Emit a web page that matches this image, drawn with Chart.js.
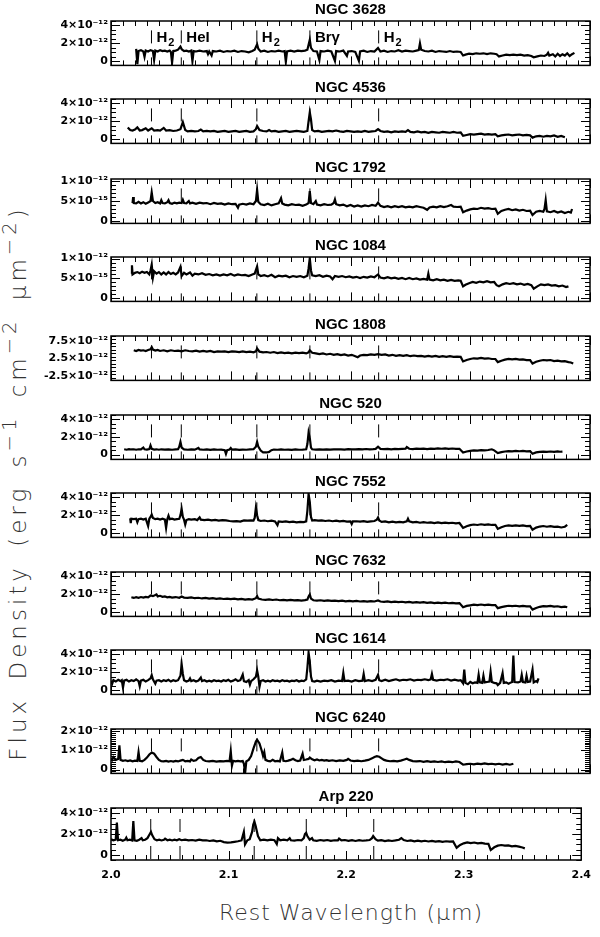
<!DOCTYPE html>
<html>
<head>
<meta charset="utf-8">
<script src="https://cdn.jsdelivr.net/npm/chart.js@4.4.1/dist/chart.umd.min.js"></script>
<style>
  body { margin: 0; background: #fff; }
  #page { position: relative; width: 600px; height: 937px; overflow: hidden; }
  #page canvas { position: absolute; left: 0; }
  .ytitle {
    position: absolute; left: 18px; top: 483px;
    transform: translate(-50%, -50%) rotate(-90deg);
    white-space: nowrap; font: 200 23px "DejaVu Sans", sans-serif; color: #333;
    letter-spacing: 4px; word-spacing: 6px;
  }
  .xtitle {
    position: absolute; left: 351px; top: 912px;
    transform: translate(-50%, -50%);
    white-space: nowrap; font: 200 22px "DejaVu Sans", sans-serif; color: #333;
    letter-spacing: 1px;
  }
  sup { font-size: 0.85em; vertical-align: 0.5em; line-height: 0; }
</style>
</head>
<body>
<div id="page">
  <div class="ytitle">Flux Density (erg s<sup>−1</sup> cm<sup>−2</sup> μm<sup>−2</sup>)</div>
  <div class="xtitle">Rest Wavelength (μm)</div>
</div>
<script>
// flux values in units of 1e-12 erg s^-1 cm^-2 um^-2, wavelength in um
const ngc3628 = [[2.021,1.4],[2.022,-0.3],[2.023,1.15],[2.025,1.25],[2.027,1.1],[2.028,0.5],[2.029,1.2],[2.031,1.1],[2.033,1.25],[2.035,1.15],[2.036,0.15],[2.037,1.2],[2.039,1.1],[2.041,1.25],[2.043,1.15],[2.045,1.2],[2.047,1.1],[2.049,1.2],[2.050,1.05],[2.051,-0.15],[2.052,1.15],[2.054,1.2],[2.056,1.3],[2.058,1.65],[2.059,1.35],[2.061,1.15],[2.063,1.2],[2.065,1.1],[2.067,1.2],[2.068,0.0],[2.069,1.15],[2.071,1.1],[2.074,1.2],[2.077,1.1],[2.080,1.15],[2.081,0.8],[2.082,1.1],[2.084,0.65],[2.085,1.15],[2.088,1.1],[2.091,1.2],[2.094,1.05],[2.097,1.15],[2.100,1.1],[2.103,1.2],[2.106,1.05],[2.109,1.15],[2.112,1.1],[2.115,1.0],[2.118,1.15],[2.120,1.3],[2.122,1.9],[2.123,1.4],[2.125,1.1],[2.128,1.2],[2.131,1.05],[2.134,1.15],[2.137,1.1],[2.140,1.2],[2.143,1.1],[2.145,1.15],[2.146,-0.05],[2.147,1.1],[2.150,1.2],[2.153,1.1],[2.156,1.2],[2.159,1.15],[2.162,1.2],[2.164,1.3],[2.166,2.4],[2.167,1.5],[2.169,1.15],[2.172,1.1],[2.174,0.15],[2.175,1.15],[2.178,1.1],[2.181,1.2],[2.184,1.1],[2.187,0.05],[2.188,1.15],[2.191,1.1],[2.194,1.2],[2.197,0.6],[2.198,1.1],[2.201,1.15],[2.204,1.05],[2.207,0.05],[2.208,1.1],[2.211,1.2],[2.214,1.05],[2.217,1.15],[2.220,1.1],[2.223,1.5],[2.225,1.1],[2.228,1.2],[2.231,1.05],[2.234,1.15],[2.237,1.1],[2.240,1.25],[2.243,1.1],[2.246,1.2],[2.249,1.15],[2.252,1.1],[2.255,1.2],[2.257,1.25],[2.258,2.0],[2.259,1.3],[2.262,1.15],[2.265,1.1],[2.268,1.2],[2.271,1.05],[2.274,1.15],[2.277,1.1],[2.280,1.05],[2.283,1.15],[2.286,1.05],[2.289,1.1],[2.292,1.05],[2.294,0.65],[2.296,0.75],[2.299,0.85],[2.302,0.8],[2.305,0.9],[2.308,0.85],[2.311,0.9],[2.314,0.8],[2.317,0.9],[2.320,0.85],[2.322,0.8],[2.324,0.55],[2.327,0.65],[2.330,0.75],[2.333,0.7],[2.336,0.75],[2.339,0.7],[2.342,0.75],[2.345,0.65],[2.348,0.7],[2.351,0.6],[2.353,0.45],[2.356,0.55],[2.359,0.65],[2.362,0.6],[2.364,0.75],[2.365,0.95],[2.366,0.65],[2.369,0.8],[2.371,0.55],[2.373,0.85],[2.375,0.6],[2.377,0.8],[2.379,0.65],[2.381,0.9],[2.383,0.6],[2.385,0.8],[2.387,0.95]];
const ngc4536 = [[2.014,1.3],[2.016,1.0],[2.018,0.95],[2.020,1.05],[2.022,1.3],[2.024,0.95],[2.026,1.0],[2.029,1.2],[2.031,0.95],[2.034,1.2],[2.036,0.95],[2.039,1.0],[2.041,0.95],[2.044,1.25],[2.046,0.95],[2.049,1.0],[2.052,0.9],[2.055,0.95],[2.058,1.1],[2.060,1.9],[2.062,1.0],[2.064,0.85],[2.067,0.9],[2.070,0.85],[2.073,0.9],[2.075,1.05],[2.077,0.85],[2.080,0.9],[2.083,0.85],[2.086,0.9],[2.089,0.8],[2.092,0.85],[2.095,0.9],[2.098,0.8],[2.101,0.85],[2.104,0.9],[2.107,0.8],[2.110,0.85],[2.113,0.9],[2.116,0.8],[2.119,0.85],[2.121,1.1],[2.122,1.45],[2.124,1.0],[2.127,0.9],[2.130,0.85],[2.132,1.0],[2.134,0.85],[2.137,0.9],[2.140,0.8],[2.143,0.85],[2.146,0.9],[2.149,0.8],[2.152,0.85],[2.155,0.9],[2.158,0.85],[2.161,0.8],[2.164,0.9],[2.165,2.0],[2.166,3.0],[2.167,2.2],[2.168,1.0],[2.170,0.85],[2.173,0.9],[2.176,0.8],[2.179,0.85],[2.182,0.9],[2.185,0.85],[2.188,0.95],[2.191,0.85],[2.194,0.8],[2.197,0.9],[2.200,0.85],[2.203,0.8],[2.206,0.85],[2.209,0.8],[2.212,0.9],[2.215,0.8],[2.218,0.85],[2.221,0.9],[2.223,1.1],[2.225,0.9],[2.228,0.8],[2.231,0.85],[2.234,0.75],[2.237,0.85],[2.240,0.8],[2.243,0.85],[2.246,0.8],[2.248,1.0],[2.250,0.8],[2.253,0.75],[2.256,0.85],[2.259,0.75],[2.262,0.8],[2.265,0.7],[2.268,0.8],[2.271,0.75],[2.274,0.7],[2.277,0.8],[2.280,0.75],[2.283,0.7],[2.286,0.8],[2.289,0.7],[2.292,0.75],[2.294,0.35],[2.297,0.45],[2.300,0.55],[2.303,0.5],[2.306,0.55],[2.309,0.6],[2.312,0.5],[2.315,0.55],[2.318,0.5],[2.321,0.55],[2.323,0.3],[2.326,0.4],[2.329,0.45],[2.332,0.5],[2.335,0.4],[2.338,0.45],[2.341,0.5],[2.344,0.4],[2.347,0.45],[2.350,0.4],[2.352,0.15],[2.355,0.3],[2.358,0.35],[2.361,0.25],[2.364,0.35],[2.367,0.3],[2.370,0.4],[2.373,0.25],[2.376,0.35],[2.379,0.2]];
const ngc1792 = [[2.018,0.45],[2.0185,0.6],[2.019,0.45],[2.021,0.44],[2.023,0.48],[2.025,0.44],[2.027,0.47],[2.029,0.43],[2.031,0.46],[2.033,0.5],[2.034,0.71],[2.035,0.5],[2.037,0.45],[2.039,0.47],[2.041,0.44],[2.042,0.52],[2.043,0.45],[2.045,0.44],[2.047,0.47],[2.048,0.52],[2.049,0.45],[2.051,0.43],[2.053,0.46],[2.055,0.44],[2.057,0.46],[2.059,0.45],[2.060,0.53],[2.061,0.45],[2.063,0.44],[2.065,0.5],[2.066,0.44],[2.068,0.46],[2.071,0.43],[2.074,0.46],[2.077,0.44],[2.080,0.45],[2.083,0.42],[2.086,0.45],[2.089,0.43],[2.092,0.44],[2.095,0.41],[2.098,0.44],[2.101,0.42],[2.104,0.43],[2.106,0.33],[2.107,0.41],[2.110,0.43],[2.113,0.41],[2.116,0.44],[2.119,0.42],[2.121,0.5],[2.122,0.78],[2.123,0.48],[2.125,0.42],[2.128,0.4],[2.131,0.43],[2.134,0.39],[2.137,0.42],[2.140,0.44],[2.142,0.57],[2.143,0.44],[2.145,0.41],[2.148,0.39],[2.151,0.42],[2.154,0.4],[2.157,0.41],[2.160,0.38],[2.163,0.41],[2.165,0.45],[2.166,0.75],[2.167,0.45],[2.169,0.42],[2.171,0.5],[2.172,0.41],[2.175,0.39],[2.178,0.42],[2.181,0.4],[2.184,0.41],[2.186,0.45],[2.187,0.54],[2.188,0.42],[2.191,0.39],[2.194,0.41],[2.197,0.37],[2.200,0.4],[2.203,0.36],[2.206,0.39],[2.209,0.36],[2.212,0.39],[2.215,0.37],[2.218,0.4],[2.221,0.38],[2.223,0.46],[2.225,0.38],[2.228,0.35],[2.231,0.37],[2.234,0.34],[2.237,0.37],[2.240,0.35],[2.243,0.37],[2.246,0.34],[2.249,0.36],[2.252,0.34],[2.255,0.37],[2.258,0.35],[2.261,0.33],[2.264,0.28],[2.266,0.34],[2.269,0.36],[2.272,0.34],[2.275,0.37],[2.278,0.35],[2.281,0.37],[2.284,0.4],[2.286,0.36],[2.289,0.35],[2.292,0.36],[2.294,0.22],[2.297,0.26],[2.300,0.29],[2.303,0.31],[2.306,0.3],[2.309,0.33],[2.312,0.31],[2.315,0.32],[2.318,0.3],[2.321,0.31],[2.323,0.18],[2.326,0.25],[2.329,0.28],[2.332,0.3],[2.335,0.27],[2.338,0.29],[2.341,0.26],[2.344,0.28],[2.347,0.25],[2.350,0.26],[2.352,0.15],[2.355,0.23],[2.358,0.25],[2.361,0.23],[2.362,0.3],[2.363,0.52],[2.364,0.24],[2.367,0.22],[2.370,0.25],[2.373,0.21],[2.376,0.24],[2.379,0.2],[2.382,0.23],[2.384,0.21],[2.385,0.3]];
const ngc1084 = [[2.017,0.62],[2.0175,0.83],[2.018,0.6],[2.020,0.64],[2.022,0.66],[2.024,0.63],[2.026,0.67],[2.028,0.64],[2.030,0.66],[2.032,0.6],[2.033,0.7],[2.034,0.85],[2.035,0.52],[2.036,0.68],[2.038,0.62],[2.040,0.66],[2.042,0.6],[2.044,0.65],[2.046,0.6],[2.048,0.66],[2.050,0.61],[2.052,0.64],[2.054,0.6],[2.056,0.65],[2.058,0.79],[2.059,0.56],[2.061,0.64],[2.063,0.6],[2.066,0.65],[2.068,0.57],[2.070,0.62],[2.073,0.6],[2.076,0.63],[2.079,0.59],[2.082,0.61],[2.085,0.58],[2.088,0.6],[2.091,0.57],[2.094,0.6],[2.097,0.58],[2.100,0.61],[2.103,0.57],[2.106,0.6],[2.109,0.58],[2.112,0.59],[2.115,0.56],[2.118,0.6],[2.120,0.62],[2.122,0.8],[2.123,0.6],[2.125,0.56],[2.128,0.58],[2.131,0.55],[2.134,0.59],[2.137,0.53],[2.140,0.57],[2.143,0.55],[2.146,0.57],[2.149,0.53],[2.152,0.56],[2.155,0.54],[2.158,0.56],[2.161,0.53],[2.164,0.57],[2.165,0.75],[2.166,1.01],[2.167,0.7],[2.168,0.58],[2.171,0.56],[2.174,0.58],[2.177,0.54],[2.180,0.57],[2.183,0.55],[2.185,0.48],[2.187,0.56],[2.190,0.54],[2.193,0.56],[2.196,0.53],[2.199,0.55],[2.202,0.52],[2.205,0.54],[2.208,0.51],[2.211,0.54],[2.214,0.52],[2.217,0.55],[2.220,0.53],[2.223,0.6],[2.225,0.52],[2.228,0.5],[2.231,0.53],[2.234,0.5],[2.237,0.52],[2.240,0.49],[2.243,0.51],[2.246,0.48],[2.249,0.51],[2.252,0.48],[2.255,0.5],[2.258,0.47],[2.261,0.49],[2.264,0.47],[2.265,0.62],[2.266,0.47],[2.269,0.45],[2.272,0.48],[2.275,0.45],[2.278,0.47],[2.281,0.44],[2.284,0.46],[2.287,0.44],[2.290,0.45],[2.292,0.44],[2.294,0.3],[2.296,0.34],[2.299,0.38],[2.302,0.41],[2.305,0.39],[2.308,0.42],[2.311,0.4],[2.314,0.43],[2.317,0.4],[2.320,0.41],[2.322,0.33],[2.324,0.3],[2.327,0.35],[2.330,0.38],[2.333,0.36],[2.336,0.38],[2.339,0.35],[2.342,0.37],[2.345,0.34],[2.348,0.36],[2.351,0.33],[2.353,0.24],[2.356,0.3],[2.359,0.35],[2.362,0.33],[2.365,0.35],[2.368,0.32],[2.371,0.33],[2.374,0.3],[2.377,0.32],[2.380,0.28],[2.382,0.3]];
const ngc1808 = [[2.019,4.9],[2.021,4.7],[2.023,5.0],[2.025,4.8],[2.027,4.9],[2.029,4.7],[2.031,5.0],[2.033,5.2],[2.034,5.8],[2.035,5.1],[2.037,4.8],[2.039,5.0],[2.041,4.7],[2.044,4.9],[2.047,4.6],[2.050,4.9],[2.053,4.7],[2.056,4.8],[2.059,4.6],[2.062,4.9],[2.065,4.7],[2.068,4.6],[2.071,4.8],[2.074,4.5],[2.077,4.7],[2.080,4.5],[2.083,4.7],[2.086,4.4],[2.089,4.6],[2.092,4.5],[2.095,4.6],[2.098,4.4],[2.101,4.6],[2.104,4.5],[2.107,4.4],[2.110,4.6],[2.113,4.4],[2.116,4.5],[2.119,4.3],[2.121,4.6],[2.122,5.4],[2.124,4.5],[2.127,4.3],[2.130,4.4],[2.133,4.2],[2.136,4.4],[2.139,4.1],[2.142,4.3],[2.145,4.1],[2.148,4.2],[2.151,4.0],[2.154,4.2],[2.157,4.1],[2.160,4.2],[2.163,4.0],[2.165,4.3],[2.166,4.9],[2.168,4.2],[2.171,4.0],[2.174,3.8],[2.177,4.0],[2.180,3.7],[2.183,3.9],[2.186,3.6],[2.189,3.8],[2.192,3.5],[2.195,3.7],[2.198,3.4],[2.201,3.6],[2.204,3.2],[2.206,2.9],[2.208,3.4],[2.211,3.6],[2.214,3.5],[2.217,3.7],[2.220,3.6],[2.223,3.8],[2.226,3.6],[2.229,3.7],[2.232,3.4],[2.235,3.6],[2.238,3.3],[2.241,3.5],[2.244,3.3],[2.247,3.5],[2.250,3.2],[2.253,3.4],[2.256,3.2],[2.259,3.3],[2.262,3.1],[2.265,3.3],[2.268,3.1],[2.271,3.3],[2.274,3.0],[2.277,3.2],[2.280,3.0],[2.283,3.2],[2.286,3.0],[2.289,3.1],[2.292,3.0],[2.294,1.7],[2.297,2.1],[2.300,2.4],[2.303,2.6],[2.306,2.5],[2.309,2.7],[2.312,2.5],[2.315,2.6],[2.318,2.4],[2.321,2.4],[2.323,1.5],[2.326,1.9],[2.329,2.2],[2.332,2.4],[2.335,2.3],[2.338,2.4],[2.341,2.2],[2.344,2.3],[2.347,2.1],[2.350,2.1],[2.352,1.1],[2.355,1.6],[2.358,1.9],[2.361,2.1],[2.364,2.0],[2.367,2.1],[2.370,1.8],[2.373,1.9],[2.376,1.7],[2.379,1.8],[2.382,1.5],[2.384,1.4],[2.386,1.1]];
const ngc520 = [[2.011,0.6],[2.013,0.55],[2.015,0.62],[2.017,0.58],[2.019,0.6],[2.021,0.55],[2.023,0.6],[2.025,0.58],[2.027,0.8],[2.028,0.6],[2.030,0.56],[2.032,0.62],[2.033,1.04],[2.034,0.65],[2.036,0.57],[2.038,0.6],[2.040,0.55],[2.042,0.6],[2.045,0.57],[2.048,0.6],[2.051,0.55],[2.054,0.58],[2.056,0.6],[2.057,0.9],[2.058,1.45],[2.059,0.8],[2.061,0.58],[2.064,0.55],[2.067,0.6],[2.070,0.56],[2.073,0.75],[2.074,0.58],[2.077,0.55],[2.080,0.6],[2.083,0.54],[2.086,0.58],[2.089,0.55],[2.092,0.57],[2.095,0.5],[2.096,0.08],[2.097,0.5],[2.099,0.58],[2.100,0.75],[2.101,0.56],[2.104,0.58],[2.107,0.54],[2.110,0.57],[2.113,0.55],[2.116,0.58],[2.119,0.6],[2.121,0.9],[2.122,1.45],[2.123,0.9],[2.125,0.45],[2.127,0.25],[2.130,0.24],[2.132,0.3],[2.134,0.5],[2.136,0.57],[2.139,0.55],[2.142,0.58],[2.145,0.55],[2.148,0.57],[2.151,0.54],[2.154,0.58],[2.157,0.55],[2.160,0.57],[2.163,0.6],[2.164,1.2],[2.165,2.5],[2.166,1.9],[2.167,0.8],[2.168,0.6],[2.171,0.57],[2.174,0.6],[2.177,0.56],[2.180,0.6],[2.183,0.57],[2.186,0.6],[2.189,0.58],[2.192,0.6],[2.195,0.57],[2.198,0.62],[2.201,0.58],[2.204,0.6],[2.207,0.62],[2.210,0.58],[2.213,0.63],[2.216,0.6],[2.219,0.62],[2.221,0.65],[2.223,0.9],[2.225,0.65],[2.228,0.62],[2.231,0.65],[2.234,0.6],[2.237,0.64],[2.240,0.62],[2.243,0.65],[2.246,0.68],[2.247,0.85],[2.249,0.66],[2.252,0.63],[2.255,0.68],[2.258,0.64],[2.261,0.67],[2.264,0.63],[2.267,0.68],[2.270,0.65],[2.273,0.7],[2.276,0.66],[2.279,0.7],[2.282,0.65],[2.285,0.69],[2.288,0.65],[2.291,0.66],[2.294,0.24],[2.297,0.35],[2.300,0.42],[2.303,0.47],[2.306,0.45],[2.309,0.5],[2.312,0.47],[2.315,0.52],[2.318,0.6],[2.320,0.48],[2.323,0.17],[2.326,0.28],[2.329,0.35],[2.332,0.4],[2.335,0.37],[2.338,0.42],[2.341,0.38],[2.344,0.41],[2.347,0.37],[2.350,0.38],[2.352,0.1],[2.355,0.25],[2.358,0.3],[2.361,0.34],[2.364,0.3],[2.367,0.35],[2.370,0.31],[2.373,0.36],[2.375,0.32],[2.377,0.34]];
const ngc7552 = [[2.016,1.65],[2.0165,1.1],[2.017,1.6],[2.019,1.55],[2.021,1.6],[2.022,1.2],[2.023,1.55],[2.025,1.6],[2.027,1.5],[2.029,1.6],[2.031,0.78],[2.032,1.6],[2.033,1.8],[2.034,2.07],[2.035,1.7],[2.037,1.55],[2.039,1.6],[2.041,1.5],[2.043,1.6],[2.045,1.5],[2.046,0.56],[2.047,1.55],[2.048,1.95],[2.049,1.55],[2.051,1.6],[2.053,1.5],[2.055,1.55],[2.057,1.6],[2.058,2.0],[2.059,2.7],[2.060,1.8],[2.061,1.5],[2.062,0.94],[2.063,1.45],[2.065,1.55],[2.067,1.5],[2.070,1.55],[2.072,1.45],[2.074,1.75],[2.075,1.5],[2.078,1.45],[2.081,1.5],[2.084,1.42],[2.087,1.48],[2.090,1.4],[2.093,1.45],[2.096,1.42],[2.099,1.35],[2.102,1.3],[2.105,1.33],[2.108,1.28],[2.111,1.42],[2.114,1.38],[2.117,1.42],[2.119,1.4],[2.120,1.7],[2.121,2.86],[2.122,2.0],[2.123,1.45],[2.125,1.35],[2.128,1.4],[2.131,1.32],[2.134,1.38],[2.137,1.3],[2.139,0.88],[2.140,1.3],[2.143,1.25],[2.146,1.3],[2.149,1.22],[2.152,1.27],[2.155,1.2],[2.158,1.25],[2.161,1.22],[2.163,1.3],[2.164,2.5],[2.165,4.4],[2.166,3.5],[2.167,1.8],[2.168,1.4],[2.170,1.45],[2.173,1.38],[2.176,1.42],[2.179,1.35],[2.182,1.4],[2.185,1.32],[2.188,1.38],[2.191,1.3],[2.194,1.35],[2.197,1.28],[2.200,1.3],[2.201,1.0],[2.202,1.3],[2.205,1.32],[2.208,1.27],[2.211,1.33],[2.214,1.25],[2.217,1.3],[2.220,1.35],[2.222,1.5],[2.223,1.74],[2.224,1.4],[2.226,1.25],[2.229,1.3],[2.232,1.2],[2.235,1.27],[2.238,1.2],[2.241,1.25],[2.244,1.2],[2.247,1.3],[2.248,1.6],[2.249,1.3],[2.252,1.2],[2.255,1.25],[2.258,1.15],[2.261,1.22],[2.264,1.15],[2.267,1.2],[2.270,1.12],[2.273,1.18],[2.276,1.1],[2.279,1.16],[2.282,1.1],[2.285,1.15],[2.288,1.08],[2.291,1.12],[2.294,0.56],[2.297,0.75],[2.300,0.88],[2.303,0.95],[2.306,0.9],[2.309,0.98],[2.312,0.92],[2.315,0.97],[2.318,0.9],[2.321,0.92],[2.323,0.46],[2.326,0.65],[2.329,0.78],[2.332,0.85],[2.335,0.8],[2.338,0.86],[2.341,0.8],[2.344,0.85],[2.347,0.78],[2.350,0.8],[2.352,0.36],[2.355,0.6],[2.358,0.72],[2.361,0.78],[2.364,0.7],[2.367,0.76],[2.370,0.68],[2.373,0.72],[2.376,0.62],[2.379,0.7],[2.381,0.9]];
const ngc7632 = [[2.017,1.65],[2.019,1.58],[2.021,1.66],[2.023,1.6],[2.025,1.68],[2.027,1.62],[2.029,1.7],[2.031,1.65],[2.033,1.85],[2.035,1.78],[2.037,1.9],[2.038,1.97],[2.039,1.75],[2.041,1.82],[2.043,1.7],[2.045,1.75],[2.047,1.65],[2.049,1.7],[2.051,1.62],[2.054,1.68],[2.057,1.6],[2.059,1.75],[2.061,1.62],[2.064,1.58],[2.067,1.65],[2.070,1.55],[2.073,1.6],[2.076,1.52],[2.079,1.58],[2.082,1.5],[2.085,1.55],[2.088,1.48],[2.091,1.53],[2.094,1.46],[2.097,1.5],[2.100,1.44],[2.103,1.5],[2.106,1.42],[2.109,1.47],[2.112,1.4],[2.115,1.45],[2.118,1.4],[2.121,1.55],[2.122,1.8],[2.123,1.5],[2.126,1.4],[2.129,1.36],[2.132,1.42],[2.135,1.35],[2.138,1.4],[2.141,1.32],[2.144,1.37],[2.147,1.3],[2.150,1.35],[2.153,1.3],[2.156,1.34],[2.159,1.28],[2.162,1.33],[2.164,1.4],[2.165,1.75],[2.166,1.97],[2.167,1.5],[2.169,1.32],[2.172,1.28],[2.175,1.32],[2.178,1.25],[2.181,1.3],[2.184,1.24],[2.187,1.28],[2.190,1.22],[2.193,1.27],[2.196,1.2],[2.199,1.25],[2.202,1.2],[2.205,1.24],[2.208,1.18],[2.211,1.22],[2.214,1.17],[2.217,1.22],[2.220,1.18],[2.223,1.3],[2.225,1.18],[2.228,1.14],[2.231,1.2],[2.234,1.12],[2.237,1.16],[2.240,1.1],[2.243,1.15],[2.246,1.08],[2.249,1.13],[2.252,1.06],[2.255,1.1],[2.258,1.05],[2.261,1.1],[2.264,1.02],[2.267,1.08],[2.270,1.0],[2.273,1.06],[2.276,1.0],[2.279,1.05],[2.282,0.98],[2.285,1.03],[2.288,0.97],[2.291,1.0],[2.294,0.53],[2.297,0.68],[2.300,0.75],[2.303,0.82],[2.306,0.78],[2.309,0.84],[2.312,0.78],[2.315,0.82],[2.318,0.76],[2.321,0.78],[2.323,0.43],[2.326,0.55],[2.329,0.63],[2.332,0.7],[2.335,0.65],[2.338,0.7],[2.341,0.64],[2.344,0.68],[2.347,0.62],[2.350,0.63],[2.352,0.27],[2.355,0.45],[2.358,0.58],[2.361,0.66],[2.364,0.62],[2.367,0.68],[2.370,0.6],[2.373,0.64],[2.376,0.55],[2.379,0.6],[2.381,0.53]];
const ngc1614 = [[2.000,1.05],[2.001,0.7],[2.002,1.1],[2.004,0.95],[2.006,1.15],[2.008,1.0],[2.009,1.1],[2.010,0.25],[2.011,1.05],[2.013,1.15],[2.015,0.95],[2.017,1.1],[2.019,1.0],[2.021,1.2],[2.023,1.0],[2.024,0.41],[2.025,1.05],[2.027,1.15],[2.029,0.95],[2.031,1.1],[2.033,1.3],[2.034,1.67],[2.035,1.2],[2.037,0.7],[2.038,1.05],[2.040,1.1],[2.042,0.95],[2.044,1.1],[2.046,1.0],[2.048,1.15],[2.050,0.95],[2.052,1.1],[2.054,1.0],[2.056,1.1],[2.058,1.6],[2.059,2.9],[2.060,1.8],[2.061,1.1],[2.063,0.95],[2.065,1.05],[2.066,1.3],[2.067,1.0],[2.069,1.1],[2.071,0.95],[2.073,1.05],[2.075,1.4],[2.076,1.0],[2.078,1.1],[2.080,0.95],[2.082,1.05],[2.084,0.95],[2.086,1.1],[2.088,1.0],[2.090,1.05],[2.092,0.95],[2.094,1.1],[2.096,1.0],[2.098,1.15],[2.100,0.95],[2.102,1.05],[2.104,1.2],[2.106,1.0],[2.108,1.1],[2.110,1.73],[2.111,1.0],[2.113,0.9],[2.115,1.1],[2.116,0.6],[2.117,1.0],[2.119,1.2],[2.121,1.5],[2.122,2.2],[2.123,1.5],[2.124,0.35],[2.125,1.0],[2.127,1.1],[2.129,0.95],[2.131,1.05],[2.133,0.95],[2.135,1.1],[2.137,1.0],[2.139,1.05],[2.141,0.95],[2.143,1.1],[2.145,1.0],[2.147,1.05],[2.149,0.95],[2.151,1.05],[2.153,1.0],[2.155,1.1],[2.157,0.95],[2.159,1.05],[2.161,1.0],[2.163,1.2],[2.164,2.5],[2.165,4.2],[2.166,3.2],[2.167,1.5],[2.168,1.0],[2.170,0.95],[2.172,1.05],[2.175,0.95],[2.178,1.05],[2.181,1.0],[2.184,1.1],[2.187,0.95],[2.190,1.05],[2.193,1.0],[2.194,1.92],[2.195,1.0],[2.198,1.05],[2.201,0.95],[2.204,1.1],[2.207,1.0],[2.210,1.05],[2.211,1.8],[2.212,1.0],[2.215,1.1],[2.218,1.0],[2.221,1.15],[2.223,1.7],[2.224,1.1],[2.226,1.0],[2.229,1.15],[2.232,1.0],[2.235,1.1],[2.238,1.2],[2.241,1.05],[2.244,1.15],[2.247,1.1],[2.250,1.2],[2.253,1.05],[2.256,1.15],[2.259,1.1],[2.262,1.2],[2.265,1.1],[2.267,1.2],[2.268,1.8],[2.269,1.15],[2.272,1.05],[2.275,1.15],[2.278,1.1],[2.281,1.2],[2.284,1.05],[2.287,1.15],[2.290,1.05],[2.292,1.1],[2.294,0.75],[2.295,2.3],[2.296,0.8],[2.298,0.65],[2.300,0.9],[2.302,0.75],[2.304,0.85],[2.306,0.8],[2.307,1.73],[2.308,0.85],[2.310,0.8],[2.311,1.6],[2.312,0.85],[2.314,0.9],[2.316,0.95],[2.317,2.05],[2.318,0.9],[2.320,0.8],[2.322,0.75],[2.323,0.55],[2.325,0.8],[2.327,1.9],[2.328,0.8],[2.330,0.85],[2.332,0.7],[2.334,0.85],[2.335,0.9],[2.336,3.87],[2.337,0.9],[2.340,0.85],[2.342,0.95],[2.343,1.7],[2.344,0.9],[2.346,0.85],[2.347,1.6],[2.348,0.9],[2.350,0.95],[2.352,2.3],[2.353,0.85],[2.355,1.0],[2.356,0.9],[2.357,1.3]];
const ngc6240 = [[2.000,0.6],[2.001,0.5],[2.002,0.65],[2.004,0.5],[2.006,0.55],[2.007,1.25],[2.008,0.5],[2.010,0.45],[2.012,0.48],[2.014,0.44],[2.016,0.47],[2.018,0.43],[2.020,0.46],[2.022,0.44],[2.023,0.9],[2.024,0.45],[2.026,0.43],[2.028,0.5],[2.030,0.62],[2.032,0.78],[2.034,0.88],[2.036,0.82],[2.038,0.65],[2.040,0.5],[2.042,0.43],[2.044,0.42],[2.046,0.45],[2.048,0.41],[2.050,0.44],[2.052,0.41],[2.054,0.45],[2.056,0.42],[2.058,0.46],[2.060,0.5],[2.062,0.43],[2.064,0.45],[2.066,0.42],[2.067,0.52],[2.069,0.45],[2.071,0.48],[2.073,0.6],[2.075,0.65],[2.077,0.5],[2.079,0.44],[2.082,0.42],[2.085,0.45],[2.088,0.41],[2.091,0.44],[2.094,0.42],[2.097,0.45],[2.099,0.43],[2.100,0.95],[2.101,0.2],[2.102,0.45],[2.104,0.42],[2.106,0.45],[2.108,0.42],[2.110,0.44],[2.111,0.3],[2.112,-0.18],[2.113,0.42],[2.115,0.5],[2.117,0.7],[2.119,1.1],[2.121,1.45],[2.122,1.54],[2.124,1.35],[2.126,0.95],[2.127,0.7],[2.128,0.9],[2.129,0.5],[2.131,0.45],[2.133,0.42],[2.135,0.5],[2.137,0.43],[2.139,0.45],[2.141,0.42],[2.143,0.88],[2.144,0.45],[2.146,0.43],[2.148,0.46],[2.150,0.5],[2.152,0.56],[2.154,0.48],[2.156,0.44],[2.158,0.47],[2.160,0.82],[2.161,0.5],[2.163,0.52],[2.165,0.55],[2.166,0.62],[2.168,0.53],[2.170,0.48],[2.172,0.52],[2.174,0.47],[2.176,0.5],[2.178,0.46],[2.180,0.49],[2.182,0.45],[2.185,0.48],[2.188,0.44],[2.191,0.47],[2.194,0.45],[2.197,0.5],[2.198,0.55],[2.200,0.47],[2.203,0.44],[2.206,0.46],[2.209,0.43],[2.212,0.46],[2.215,0.5],[2.218,0.58],[2.220,0.65],[2.222,0.69],[2.224,0.66],[2.226,0.58],[2.228,0.5],[2.230,0.46],[2.233,0.43],[2.236,0.45],[2.239,0.42],[2.242,0.46],[2.245,0.52],[2.247,0.56],[2.249,0.5],[2.252,0.44],[2.255,0.42],[2.258,0.44],[2.261,0.4],[2.264,0.43],[2.267,0.4],[2.270,0.42],[2.273,0.39],[2.276,0.42],[2.279,0.38],[2.282,0.41],[2.285,0.38],[2.288,0.42],[2.291,0.39],[2.294,0.25],[2.297,0.28],[2.300,0.3],[2.303,0.27],[2.306,0.31],[2.309,0.28],[2.312,0.32],[2.315,0.28],[2.318,0.3],[2.321,0.27],[2.324,0.3],[2.327,0.26],[2.330,0.29],[2.333,0.25],[2.336,0.3]];
const arp220 = [[2.000,1.5],[2.002,1.4],[2.004,1.45],[2.005,3.1],[2.006,1.4],[2.008,1.45],[2.010,1.35],[2.012,1.45],[2.013,1.65],[2.014,1.4],[2.016,1.45],[2.018,1.38],[2.019,3.25],[2.020,1.4],[2.022,1.35],[2.024,1.45],[2.026,1.6],[2.027,1.4],[2.029,1.45],[2.031,1.6],[2.033,2.0],[2.034,2.2],[2.035,1.9],[2.037,1.5],[2.039,1.4],[2.041,1.45],[2.043,1.38],[2.045,1.45],[2.046,1.55],[2.048,1.4],[2.050,1.45],[2.052,1.38],[2.054,1.45],[2.056,1.4],[2.058,1.5],[2.060,1.4],[2.063,1.45],[2.066,1.38],[2.069,1.42],[2.072,1.36],[2.075,1.45],[2.078,1.38],[2.081,1.4],[2.084,1.33],[2.087,1.38],[2.090,1.3],[2.093,1.35],[2.096,1.22],[2.099,1.17],[2.102,1.2],[2.105,1.25],[2.108,1.3],[2.111,1.38],[2.113,2.2],[2.114,1.0],[2.116,1.4],[2.118,1.5],[2.120,2.2],[2.121,2.9],[2.122,3.2],[2.123,2.8],[2.125,1.8],[2.127,1.4],[2.130,1.45],[2.133,1.38],[2.136,1.45],[2.139,1.4],[2.141,1.04],[2.142,1.6],[2.144,1.4],[2.147,1.45],[2.150,1.4],[2.152,1.6],[2.153,1.4],[2.156,1.36],[2.159,1.42],[2.162,1.38],[2.164,1.6],[2.165,2.0],[2.166,2.12],[2.167,1.8],[2.169,1.45],[2.171,1.6],[2.172,1.4],[2.175,1.35],[2.178,1.42],[2.181,1.36],[2.184,1.42],[2.187,1.35],[2.190,1.4],[2.193,1.38],[2.194,1.55],[2.196,1.38],[2.199,1.42],[2.202,1.35],[2.205,1.4],[2.208,1.33],[2.211,1.4],[2.214,1.35],[2.217,1.38],[2.220,1.42],[2.222,1.6],[2.223,1.8],[2.225,1.5],[2.227,1.36],[2.230,1.4],[2.233,1.32],[2.236,1.38],[2.239,1.33],[2.242,1.38],[2.245,1.45],[2.247,1.6],[2.249,1.42],[2.252,1.33],[2.255,1.38],[2.258,1.3],[2.261,1.36],[2.264,1.3],[2.267,1.35],[2.270,1.28],[2.273,1.33],[2.276,1.27],[2.279,1.32],[2.282,1.25],[2.285,1.3],[2.288,1.26],[2.291,1.28],[2.294,0.68],[2.297,0.95],[2.300,1.1],[2.303,1.2],[2.306,1.12],[2.309,1.18],[2.312,1.1],[2.315,1.15],[2.318,1.08],[2.321,1.05],[2.323,0.46],[2.326,0.72],[2.329,0.88],[2.332,0.94],[2.335,0.88],[2.338,0.9],[2.341,0.82],[2.344,0.86],[2.347,0.78],[2.350,0.7],[2.352,0.62]];

const galaxies = ['NGC 3628','NGC 4536','NGC 1792','NGC 1084','NGC 1808','NGC 520','NGC 7552','NGC 7632','NGC 1614','NGC 6240','Arp 220'];
const spectra = [ngc3628, ngc4536, ngc1792, ngc1084, ngc1808, ngc520, ngc7552, ngc7632, ngc1614, ngc6240, arp220];
const yMin = [-0.45,-0.5,-0.06,-0.08,-3.75,-0.55,-0.5,-0.5,-0.5,-0.2,-0.5];
const yMax = [4.5,4.5,1.05,1.04,9.0,4.5,4.5,4.5,4.5,2.1,4.5];
const yTicks = [[0,2,4],[0,2,4],[0,0.5,1],[0,0.5,1],[-2.5,2.5,7.5],[0,2,4],[0,2,4],[0,2,4],[0,2,4],[0,1,2],[0,2,4]];
const yTickLabels = [
  ['0','2×10⁻¹²','4×10⁻¹²'], ['0','2×10⁻¹²','4×10⁻¹²'],
  ['0','5×10⁻¹⁵','1×10⁻¹²'], ['0','5×10⁻¹⁵','1×10⁻¹²'],
  ['-2.5×10⁻¹²','2.5×10⁻¹²','7.5×10⁻¹²'],
  ['0','2×10⁻¹²','4×10⁻¹²'], ['0','2×10⁻¹²','4×10⁻¹²'], ['0','2×10⁻¹²','4×10⁻¹²'],
  ['0','2×10⁻¹²','4×10⁻¹²'], ['0','1×10⁻¹²','2×10⁻¹²'], ['0','2×10⁻¹²','4×10⁻¹²']
];
const yMinorStep = [0.5,0.5,0.1,0.1,1,0.5,0.5,0.5,0.5,0.1,0.5];
const lineWaves = [2.0338, 2.0587, 2.1218, 2.1661, 2.2235];
const lineNames = ['H2', 'HeI', 'H2', 'Brγ', 'H2'];
const xTicks = [2.0, 2.1, 2.2, 2.3, 2.4];
const xMinorStep = 0.01;

// layout
const panelTop = [21, 99, 179, 257, 336, 415, 493, 572, 650, 729, 808];
const panelH = 52;
const page = document.getElementById('page');

// box, inward ticks on all four sides, and line labels on the first panel
const framePlugin = {
  id: 'frame',
  afterDraw(chart, args, opts) {
    const { ctx, chartArea: a, scales: { x, y } } = chart;
    const i = opts.index;
    ctx.save();
    ctx.strokeStyle = '#000';
    ctx.lineWidth = 1;
    ctx.beginPath();
    const nx = Math.round((x.max - x.min) / xMinorStep);
    for (let k = 0; k <= nx; k++) {
      const v = x.min + k * xMinorStep;
      const px = Math.round(x.getPixelForValue(v)) + 0.5;
      const len = xTicks.some(t => Math.abs(t - v) < 1e-6) ? 9 : 5;
      ctx.moveTo(px, a.bottom); ctx.lineTo(px, a.bottom - len);
      ctx.moveTo(px, a.top); ctx.lineTo(px, a.top + len);
    }
    const st = yMinorStep[i];
    for (let v = Math.ceil(y.min / st) * st; v <= y.max + 1e-9; v += st) {
      const py = Math.round(y.getPixelForValue(v)) + 0.5;
      const len = yTicks[i].some(t => Math.abs(t - v) < 1e-6) ? 9 : 5;
      ctx.moveTo(a.left, py); ctx.lineTo(a.left + len, py);
      ctx.moveTo(a.right, py); ctx.lineTo(a.right - len, py);
    }
    ctx.stroke();
    ctx.lineWidth = 1.5;
    ctx.strokeRect(a.left, a.top, a.right - a.left, a.bottom - a.top);

    if (i === 0) {
      ctx.fillStyle = '#000';
      ctx.textBaseline = 'alphabetic';
      lineWaves.forEach((w, k) => {
        const px = x.getPixelForValue(w) + 5;
        const base = a.top + 21;
        const name = lineNames[k];
        ctx.font = 'bold 15px "Liberation Sans", Arial, sans-serif';
        if (name === 'H2') {
          ctx.fillText('H', px, base);
          const wH = ctx.measureText('H').width;
          ctx.font = 'bold 11px "Liberation Sans", Arial, sans-serif';
          ctx.fillText('2', px + wH + 1, base + 4);
        } else {
          ctx.fillText(name, px, base);
        }
      });
    }
    ctx.restore();
  }
};

galaxies.forEach((name, i) => {
  const last = i === galaxies.length - 1;
  const cv = document.createElement('canvas');
  const h = 24 + panelH + (last ? 32 : 2);
  cv.width = 600; cv.height = h;
  cv.style.top = (panelTop[i] - 24) + 'px';
  cv.style.width = '600px'; cv.style.height = h + 'px';
  page.appendChild(cv);

  const dashTop = yMax[i] - 11 / panelH * (yMax[i] - yMin[i]);
  const dashPts = [];
  lineWaves.forEach(w => {
    dashPts.push({ x: w, y: dashTop }, { x: w, y: yMin[i] }, { x: w, y: null });
  });

  new Chart(cv, {
    type: 'line',
    data: {
      datasets: [
        {
          data: spectra[i].map(p => ({ x: p[0], y: p[1] })),
          borderColor: '#000', borderWidth: 2.2, pointRadius: 0, tension: 0
        },
        {
          data: dashPts,
          borderColor: '#000', borderWidth: 1, borderDash: [13, 14],
          pointRadius: 0, spanGaps: false
        }
      ]
    },
    options: {
      responsive: false,
      animation: false,
      events: [],
      layout: { padding: { top: 4, right: 10, left: 0, bottom: 2 } },
      plugins: {
        legend: { display: false },
        tooltip: { enabled: false },
        title: {
          display: true, text: name, fullSize: false, color: '#000',
          font: { family: '"Liberation Sans", Arial, sans-serif', size: 15, weight: 'bold', lineHeight: 1.2 },
          padding: { top: 0, bottom: 2 }
        },
        frame: { index: i }
      },
      scales: {
        x: {
          type: 'linear', min: 2.0, max: 2.4, display: last,
          grid: { display: false, drawTicks: false },
          border: { display: false },
          ticks: {
            padding: 9, color: '#000', autoSkip: false, maxRotation: 0,
            font: { family: '"DejaVu Sans", sans-serif', size: 11, weight: 'bold' },
            callback: v => v.toFixed(1)
          },
          afterBuildTicks: s => { s.ticks = xTicks.map(v => ({ value: v })); },
          afterFit: s => { if (last) s.height = 30; }
        },
        y: {
          type: 'linear', min: yMin[i], max: yMax[i],
          grid: { display: false, drawTicks: false },
          border: { display: false },
          ticks: {
            padding: 3, color: '#000', autoSkip: false,
            font: { family: '"DejaVu Sans", sans-serif', size: 11, weight: 'bold' },
            callback: v => {
              const k = yTicks[i].findIndex(t => Math.abs(t - v) < 1e-9);
              return k >= 0 ? yTickLabels[i][k] : '';
            }
          },
          afterBuildTicks: s => { s.ticks = yTicks[i].map(v => ({ value: v })); },
          afterFit: s => { s.width = 111; }
        }
      }
    },
    plugins: [framePlugin]
  });
});
</script>
</body>
</html>
